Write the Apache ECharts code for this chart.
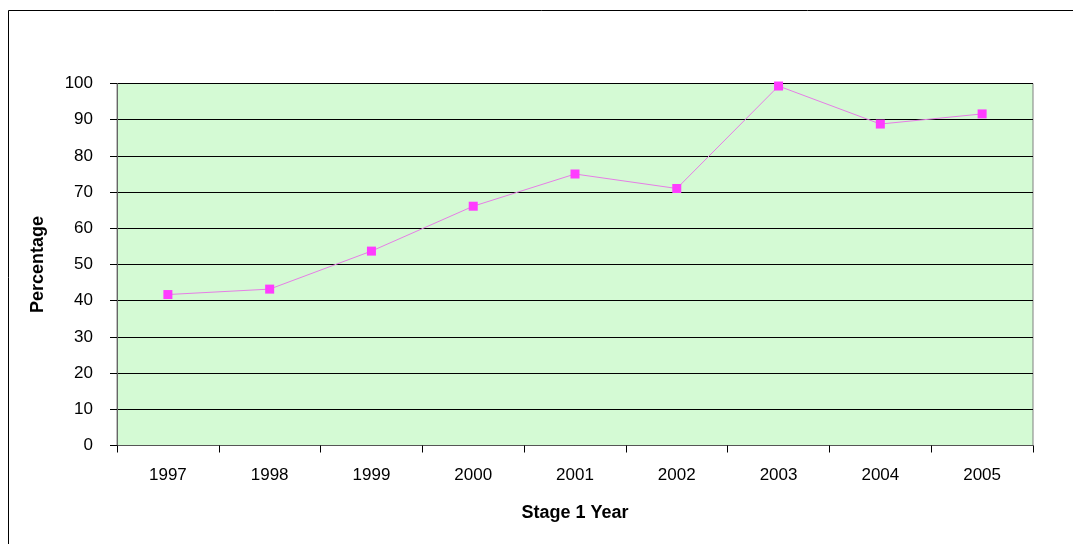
<!DOCTYPE html>
<html><head><meta charset="utf-8">
<script src="https://cdn.jsdelivr.net/npm/echarts@6/dist/echarts.min.js"></script>
<style>html,body{margin:0;padding:0;background:#fff}#c{width:1073px;height:544px}</style>
</head><body><div id="c"></div>
<script>
const categories = ['1997','1998','1999','2000','2001','2002','2003','2004','2005'];
const percentage = [41.7, 43.2, 53.7, 66.1, 75.0, 71.0, 99.3, 88.8, 91.6];
const yTicks = [0,10,20,30,40,50,60,70,80,90,100];

const chart = echarts.init(document.getElementById('c'), null, {renderer:'canvas'});
const font = '"Liberation Sans", Arial, sans-serif';
chart.setOption({
  animation:false,
  backgroundColor:'#fff',
  grid:{left:117,top:83.5,width:916,height:362,containLabel:false,show:true,backgroundColor:'#d4fad4',borderColor:'#808080',borderWidth:1},
  xAxis:{type:'category',data:categories,boundaryGap:true,
    name:'Stage 1 Year',nameLocation:'middle',nameGap:59,
    nameTextStyle:{fontFamily:font,fontSize:18,fontWeight:'bold',color:'#000'},
    axisLine:{lineStyle:{color:'#555',width:1}},
    axisTick:{show:true,length:7,alignWithLabel:false,lineStyle:{color:'#000'}},
    axisLabel:{fontFamily:font,fontSize:17,color:'#000',margin:21},
    splitLine:{show:false}},
  yAxis:{type:'value',min:yTicks[0],max:yTicks[yTicks.length-1],interval:10,
    name:'Percentage',nameLocation:'middle',nameGap:70,nameRotate:90,
    nameTextStyle:{fontFamily:font,fontSize:18,fontWeight:'bold',color:'#000'},
    axisLine:{show:true,lineStyle:{color:'#666',width:1}},
    axisTick:{show:true,length:7,inside:false,lineStyle:{color:'#000'}},
    axisLabel:{fontFamily:font,fontSize:17,color:'#000',margin:24},
    splitLine:{show:true,lineStyle:{color:'#000',width:1}}},
  series:[{type:'line',data:percentage,symbol:'rect',symbolSize:9,
    lineStyle:{color:'#e67ee6',width:1},
    itemStyle:{color:'#ff3cff',borderWidth:0}}],
  graphic:[{type:'rect',shape:{x:8.5,y:10.5,width:1100,height:600},style:{fill:'none',stroke:'#000',lineWidth:1},z:100}]
});
</script></body></html>
